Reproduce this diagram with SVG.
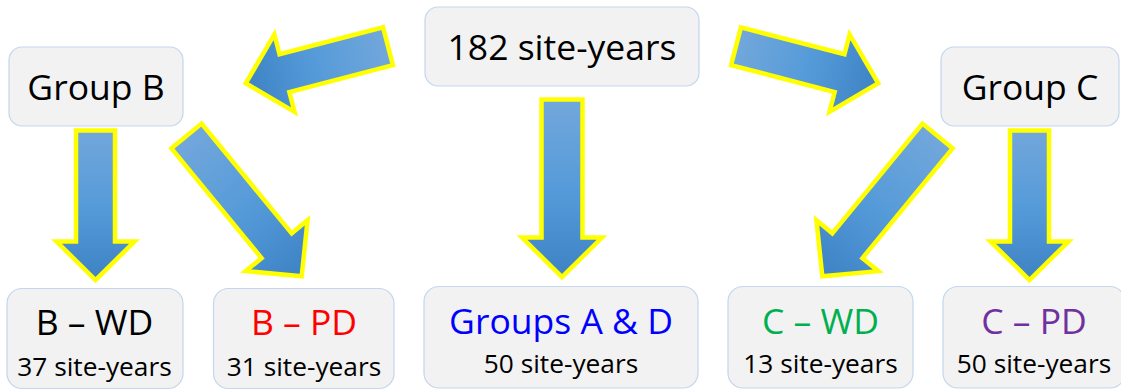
<svg xmlns="http://www.w3.org/2000/svg" width="1121" height="390" viewBox="0 0 1121 390">
<defs>
<linearGradient id="ag" x1="0" y1="0" x2="1" y2="0">
<stop offset="0" stop-color="#72a7db"/>
<stop offset="0.5" stop-color="#569bd9"/>
<stop offset="1" stop-color="#3d83c5"/>
</linearGradient>
</defs>
<style>
.box{fill:#f2f2f2;stroke:#c3d6ee;stroke-width:1.2}
.arr{fill:url(#ag);stroke:#ffff00;stroke-width:4.5;stroke-linejoin:miter;stroke-miterlimit:10}
.big{font-family:"Open Sans","Noto Sans",sans-serif;font-size:35.5px;text-anchor:middle;fill:#000}
.small{font-family:"Open Sans","Noto Sans",sans-serif;font-size:26.3px;text-anchor:middle;fill:#000}
</style>
<rect width="1121" height="390" fill="#fff"/>
<g id="connectors">
<polygon class="arr" transform="translate(388,46.2) rotate(165.4)" points="0,-19.5 107,-19.5 107,-40 147,0 107,40 107,19.5 0,19.5"/>
<polygon class="arr" transform="translate(736,46.2) rotate(14.6)" points="0,-19.5 107,-19.5 107,-40 147,0 107,40 107,19.5 0,19.5"/>
<polygon class="arr" transform="translate(562,99.5) rotate(90)" points="0,-20.5 138,-20.5 138,-40 177.5,0 138,40 138,20.5 0,20.5"/>
<polygon class="arr" transform="translate(95.5,130.5) rotate(90)" points="0,-19.5 111,-19.5 111,-39 149.5,0 111,39 111,19.5 0,19.5"/>
<polygon class="arr" transform="translate(186.5,136) rotate(50.6)" points="0,-19.5 142,-19.5 142,-40 181.5,0 142,40 142,19.5 0,19.5"/>
<polygon class="arr" transform="translate(937.5,136) rotate(129.4)" points="0,-19.5 142,-19.5 142,-40 181.5,0 142,40 142,19.5 0,19.5"/>
<polygon class="arr" transform="translate(1029.5,130.5) rotate(90)" points="0,-19.5 111,-19.5 111,-39 149.5,0 111,39 111,19.5 0,19.5"/>
</g>
<g id="n-total">
<rect class="box" x="425" y="7" width="274" height="79" rx="13"/>
<text class="big" x="562" y="60">182 site-years</text>
</g>
<g id="n-groupB">
<rect class="box" x="9" y="47" width="174" height="79" rx="13"/>
<text class="big" x="96" y="100">Group B</text>
</g>
<g id="n-groupC">
<rect class="box" x="941" y="47" width="178" height="79" rx="13"/>
<text class="big" x="1030" y="100">Group C</text>
</g>
<g id="n-bwd">
<rect class="box" x="7" y="288.5" width="176" height="100" rx="15"/>
<text class="big" x="94.5" y="335">B – WD</text>
<text class="small" x="94.5" y="375.5">37 site-years</text>
</g>
<g id="n-bpd">
<rect class="box" x="213.5" y="288.5" width="180.5" height="100" rx="15"/>
<text class="big" x="304" y="335" style="fill:#ff0000">B – PD</text>
<text class="small" x="304" y="375.5">31 site-years</text>
</g>
<g id="n-ad">
<rect class="box" x="424" y="286.5" width="274" height="101.5" rx="15"/>
<text class="big" x="561" y="333.5" style="fill:#0000ff">Groups A &amp; D</text>
<text class="small" x="561" y="373">50 site-years</text>
</g>
<g id="n-cwd">
<rect class="box" x="728" y="286.5" width="185" height="101.5" rx="15"/>
<text class="big" x="820.5" y="333.5" style="fill:#00b050">C – WD</text>
<text class="small" x="820.5" y="373">13 site-years</text>
</g>
<g id="n-cpd">
<rect class="box" x="943" y="286.5" width="182" height="101.5" rx="15"/>
<text class="big" x="1034" y="333.5" style="fill:#7030a0">C – PD</text>
<text class="small" x="1034" y="373">50 site-years</text>
</g>
</svg>
